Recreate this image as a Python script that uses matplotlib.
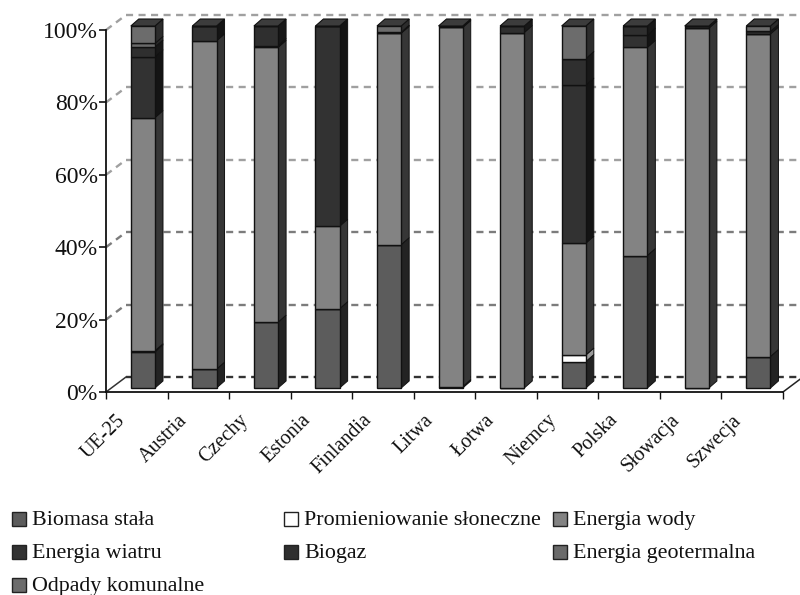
import matplotlib
matplotlib.use('Agg')
import matplotlib.pyplot as plt
import numpy as np

plt.rcParams['font.family'] = ['Liberation Serif', 'DejaVu Serif']

countries = ['UE-25', 'Austria', 'Czechy', 'Estonia', 'Finlandia', 'Litwa',
             'Łotwa', 'Niemcy', 'Polska', 'Słowacja', 'Szwecja']
series_names = ['Biomasa stała', 'Promieniowanie słoneczne', 'Energia wody',
                'Energia wiatru', 'Biogaz', 'Energia geotermalna', 'Odpady komunalne']

# shares in percent
biomasa = [10.0, 5.2, 18.2, 21.9, 39.6, 0.4, 0.0, 7.3, 36.6, 0.0, 8.7]
promieniowanie = [0.3, 0.0, 0.0, 0.0, 0.0, 0.0, 0.0, 1.8, 0.0, 0.0, 0.0]
woda = [64.4, 90.7, 75.9, 22.8, 58.4, 99.2, 98.2, 30.9, 57.5, 99.4, 89.1]
wiatr = [16.8, 4.1, 0.5, 55.3, 0.0, 0.0, 0.0, 43.7, 3.4, 0.0, 0.0]
biogaz = [2.7, 0.0, 5.4, 0.0, 0.3, 0.4, 1.8, 7.3, 2.5, 0.6, 0.7]
geotermia = [1.0, 0.0, 0.0, 0.0, 0.0, 0.0, 0.0, 0.0, 0.0, 0.0, 0.0]
odpady = [4.8, 0.0, 0.0, 0.0, 1.7, 0.0, 0.0, 9.0, 0.0, 0.0, 1.5]
all_series = [biomasa, promieniowanie, woda, wiatr, biogaz, geotermia, odpady]

front_colors = ['#5c5c5c', '#ffffff', '#838383', '#323232', '#2f2f2f', '#6a6a6a', '#6c6c6c']
side_colors = ['#232323', '#9a9a9a', '#363636', '#141414', '#181818', '#2a2a2a', '#2c2c2c']
EDGE = '#111111'

# pixel geometry of the fake 3d box
PX_CAT = 61.55
PX_PCT = 3.62
WALL_DX, WALL_DY = 20 / PX_CAT, 15 / PX_PCT
BAR_OX, BAR_OY = 24.8 / PX_CAT, 4 / PX_PCT
BAR_W = 24.2 / PX_CAT
DEPTH_DX, DEPTH_DY = 8 / PX_CAT, 7 / PX_PCT

fig = plt.figure(figsize=(8, 5.95), dpi=100)
ax = fig.add_axes([106 / 800, 1 - 392 / 595, 677 / 800, 362 / 595])
ax.set_xlim(-0.5, 10.5)
ax.set_ylim(0, 100)
for s in ['top', 'right']:
    ax.spines[s].set_visible(False)
for s in ['left', 'bottom']:
    ax.spines[s].set_linewidth(1.3)
    ax.spines[s].set_color('#111111')

x = np.arange(len(countries))
right = len(countries) - 0.5

# walls and grid
for v in range(0, 101, 20):
    gc = '#a0a0a0' if v >= 60 else '#7c7c7c'
    if v == 0:
        gc = '#333333'
        ax.plot([-0.5, -0.5 + WALL_DX], [v, v + WALL_DY], color=gc, lw=1.1, clip_on=False, zorder=1)
    else:
        ax.plot([-0.5, -0.5 + WALL_DX], [v, v + WALL_DY], color=gc, lw=1.7,
                dashes=(3, 2.3), clip_on=False, zorder=1)
    ax.plot([-0.5 + WALL_DX, right + WALL_DX], [v + WALL_DY, v + WALL_DY], color=gc,
            lw=1.7, dashes=(3, 2.3), clip_on=False, zorder=1)
ax.plot([right, right + WALL_DX], [0, WALL_DY], color='#222222', lw=1.1, clip_on=False, zorder=1)

# bars: front through bar(), side and top as polygons
bottoms = np.zeros(len(countries))
for vals, fc, sc in zip(all_series, front_colors, side_colors):
    vals = np.array(vals)
    left = x - 0.5 + BAR_OX
    ax.bar(left, vals, BAR_W, bottom=bottoms + BAR_OY, align='edge', color=fc,
           edgecolor=EDGE, linewidth=1.0, zorder=3, clip_on=False)
    for i in x:
        if vals[i] <= 0:
            continue
        xr = left[i] + BAR_W
        y0 = bottoms[i] + BAR_OY
        y1 = y0 + vals[i]
        ax.fill([xr, xr + DEPTH_DX, xr + DEPTH_DX, xr],
                [y0, y0 + DEPTH_DY, y1 + DEPTH_DY, y1],
                facecolor=sc, edgecolor=EDGE, linewidth=0.7, zorder=2.9, clip_on=False)
    bottoms = bottoms + vals

# tops
for i in x:
    xl = i - 0.5 + BAR_OX
    yt = bottoms[i] + BAR_OY
    ax.fill([xl, xl + BAR_W, xl + BAR_W + DEPTH_DX, xl + DEPTH_DX],
            [yt, yt, yt + DEPTH_DY, yt + DEPTH_DY],
            facecolor='#3c3c3c', edgecolor=EDGE, linewidth=0.8, zorder=3.1, clip_on=False)

ax.set_yticks(range(0, 101, 20))
ax.set_yticklabels(['%d%%' % v for v in range(0, 101, 20)], fontsize=17, color='#111111')
ax.tick_params(axis='y', length=5, width=1.2, pad=1, color='#111111')
ax.set_xticks(np.arange(-0.5, 11, 1))
ax.set_xticklabels([])
ax.tick_params(axis='x', length=5, width=1.0, color='#111111')

for i, name in zip(x, countries):
    ax.annotate(name, (i, 0), xytext=(-15, -13.5), textcoords='offset points', ha='right', va='top',
                rotation=45, rotation_mode='anchor', fontsize=14.5, color='#111111',
                annotation_clip=False)

# legend is laid out by hand in three rows, like the source figure
rows = [[0, 1, 2], [3, 4, 5], [6]]
col_x = [12, 284, 553]
row_y = [519, 552, 585]
for r, row in enumerate(rows):
    for c, idx in enumerate(row):
        px, py = col_x[c], row_y[r]
        fig.patches.append(plt.Rectangle((px / 800, 1 - (py + 7) / 595), 14 / 800, 14 / 595,
                                         transform=fig.transFigure, facecolor=front_colors[idx],
                                         edgecolor='#222222', linewidth=1.0))
        fig.text((px + 20) / 800, 1 - (py + 6) / 595, series_names[idx], fontsize=15.8,
                 va='baseline', ha='left', color='#111111')

fig.savefig('out.png', dpi=100)
